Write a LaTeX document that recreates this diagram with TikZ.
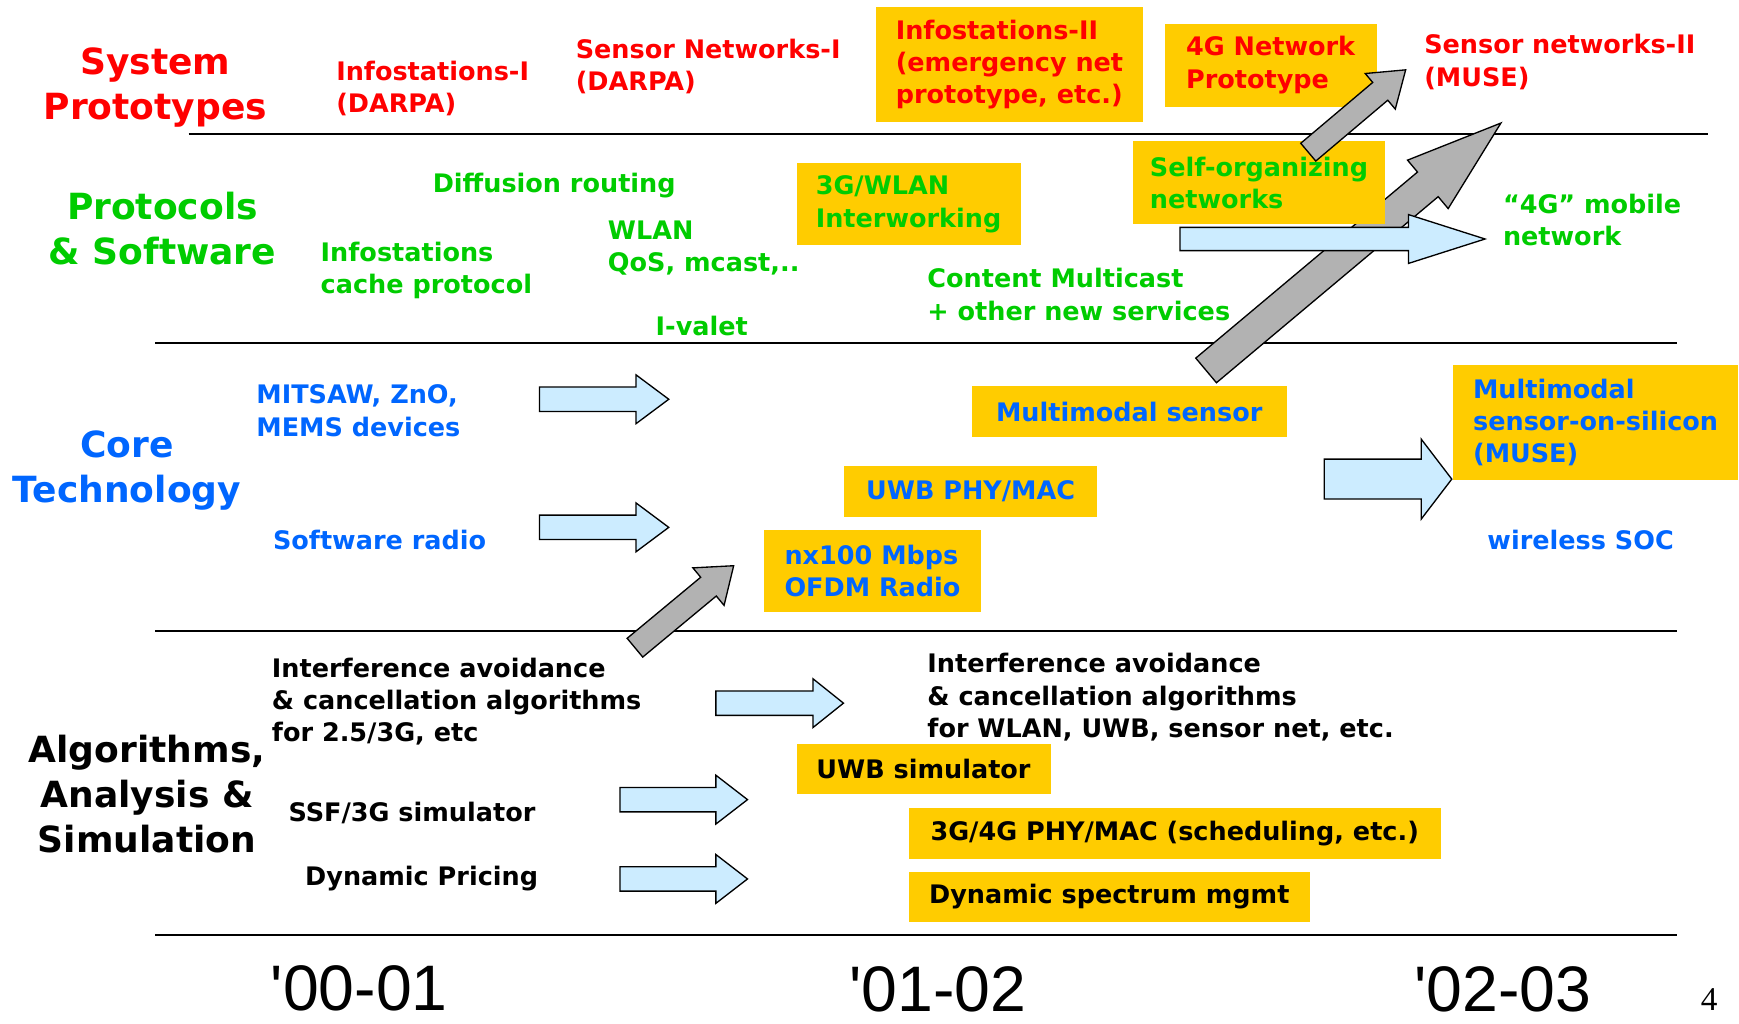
\documentclass[tikz,border=0pt]{standalone}
\usepackage{fontspec}
\setmainfont{DejaVu Sans}
\newfontfamily\yearfont{Liberation Sans}[Ligatures=TeXOff]
\newfontfamily\pagefont{Liberation Serif}
\usepackage{tikz}

\definecolor{protored}{HTML}{FF0000}
\definecolor{protogreen}{HTML}{00CC00}
\definecolor{coreblue}{HTML}{0066FF}
\definecolor{boxyellow}{HTML}{FFCC00}
\definecolor{arrowblue}{HTML}{CCECFF}
\definecolor{arrowgray}{HTML}{B2B2B2}

\newcommand{\itemfont}{\fontsize{23}{29}\selectfont\bfseries}
\newcommand{\headfont}{\fontsize{32.5}{40.5}\selectfont\bfseries}

% estilo, cola, angulo, largo, medio cuerpo, media punta, largo punta
\newcommand{\fatarrow}[7]{%
  \begin{scope}[shift={#2}, rotate=#3]
    \draw[#1] (0,-#5) -- ({#4-#7},-#5) -- ({#4-#7},-#6) -- (#4,0) -- ({#4-#7},#6) -- ({#4-#7},#5) -- (0,#5) -- cycle;
  \end{scope}}

\tikzset{
  lbl/.style={anchor=north west, align=left, inner sep=0pt, font=\itemfont},
  hdg/.style={anchor=north, align=center, inner sep=0pt, font=\headfont},
  hbox/.style 2 args={fill=boxyellow, anchor=north west, align=left, inner sep=0pt, minimum width=#1, minimum height=#2, font=\itemfont},
  year/.style={anchor=base, inner sep=0pt, text depth=0pt, font=\yearfont\fontsize{58}{58}\selectfont},
  sepline/.style={line width=1.6pt},
  bluearrow/.style={draw=black, line width=1.2pt, fill=arrowblue},
  grayarrow/.style={draw=black, line width=1.2pt, fill=arrowgray},
}

\begin{document}
\begin{tikzpicture}[x=1pt, y=-1pt]
\useasboundingbox (0,0) rectangle (1568,923);

\draw[sepline] (170,121) -- (1540,121); % linea 1
\draw[sepline] (140,309) -- (1512,309); % linea 2
\draw[sepline] (140,569) -- (1512,569); % linea 3
\draw[sepline] (140,843) -- (1512,843); % linea 4

% titulos
\node[hdg, text=protored] (sysproto) at (140,43) {System\\Prototypes};
\node[hdg, text=protogreen] (protsw) at (146.5,173) {Protocols\\\& Software};
\node[hdg, text=coreblue] (coretech) at (114.5,388) {Core\\Technology};
\node[hdg, text=black] (algo) at (132.5,663) {Algorithms,\\Analysis \&\\Simulation};

% prototipos
\node[lbl, text=protored] (infoI) at (303,55) {Infostations-I\\(DARPA)};
\node[lbl, text=protored] (sensI) at (519,35) {Sensor Networks-I\\(DARPA)};
\node[lbl, text=protored] (sensII) at (1284,31) {Sensor networks-II\\(MUSE)};

% protocolos
\node[lbl, text=protogreen] (diffusion) at (390,156) {Diffusion routing};
\node[lbl, text=protogreen] (cache) at (289,218) {Infostations\\cache protocol};
\node[lbl, text=protogreen] (wlan) at (548,199) {WLAN\\QoS, mcast,..};
\node[lbl, text=protogreen] (ivalet) at (591,285) {I-valet};
\node[lbl, text=protogreen] (multicast) at (836,242) {Content Multicast\\+ other new services};
\node[lbl, text=protogreen] (mobile) at (1355,175) {“4G” mobile\\network};

% tecnologia
\node[lbl, text=coreblue] (mitsaw) at (231,347) {MITSAW, ZnO,\\MEMS devices};
\node[lbl, text=coreblue] (swradio) at (246,478) {Software radio};
\node[lbl, text=coreblue] (wsoc) at (1341,478) {wireless SOC};

% algoritmos
\node[lbl] (interfA) at (245,593) {Interference avoidance\\\& cancellation algorithms\\for 2.5/3G, etc};
\node[lbl] (ssf) at (260,723) {SSF/3G simulator};
\node[lbl] (pricing) at (275,781) {Dynamic Pricing};
\node[lbl] (interfB) at (836,589) {Interference avoidance\\\& cancellation algorithms\\for WLAN, UWB, sensor net, etc.};

\fatarrow{grayarrow}{(1087.5,334)}{40}{347}{14.5}{28.5}{86} % flecha grande

% cajas
\node[hbox={240pt}{104pt}, text=protored] (infoII) at (790,6) {Infostations-II\\(emergency net\\prototype, etc.)};
\node[hbox={191pt}{75pt}, text=protored] (net4g) at (1050,21) {4G Network\\Prototype};
\node[hbox={202pt}{74pt}, text=protogreen] (wlan3g) at (718,147) {3G/WLAN\\Interworking};
\node[hbox={228pt}{75pt}, text=protogreen] (selforg) at (1021,127) {Self-organizing\\networks};
\node[hbox={284pt}{46pt}, text=coreblue] (mmsensor) at (876,348) {Multimodal sensor};
\node[hbox={228pt}{46pt}, text=coreblue] (uwbphy) at (761,420) {UWB PHY/MAC};
\node[hbox={195pt}{74pt}, text=coreblue] (ofdm) at (689,478) {nx100 Mbps\\OFDM Radio};
\node[hbox={257pt}{104pt}, text=coreblue] (muse) at (1310,329) {Multimodal\\sensor-on-silicon\\(MUSE)};
\node[hbox={229pt}{45pt}] (uwbsim) at (718,671) {UWB simulator};
\node[hbox={480pt}{46pt}] (phymac) at (819,728) {3G/4G PHY/MAC (scheduling, etc.)};
\node[hbox={362pt}{45pt}] (spectrum) at (819,786) {Dynamic spectrum mgmt};

\fatarrow{grayarrow}{(572.5,584)}{39.7}{115.7}{11}{22}{29.5}
\fatarrow{grayarrow}{(1179.6,137.2)}{40.2}{115}{10.5}{21}{30}

% flechas azules
\fatarrow{bluearrow}{(486.5,360)}{0}{116.5}{11}{22}{29.5}
\fatarrow{bluearrow}{(486.5,475.5)}{0}{116.5}{11}{22}{29.5}
\fatarrow{bluearrow}{(1194,432)}{0}{115}{18}{36}{27.5}
\fatarrow{bluearrow}{(645.5,634)}{0}{115}{11}{22}{27.5}
\fatarrow{bluearrow}{(559,721)}{0}{115}{11}{22}{28.5}
\fatarrow{bluearrow}{(559,792.5)}{0}{115}{11}{22}{28.5}
\fatarrow{bluearrow}{(1064,215.5)}{0}{275}{10.5}{22}{69}

% anos
\node[year] (y1) at (324,911) {'00-01};
\node[year] (y2) at (845.5,912) {'01-02};
\node[year] (y3) at (1355,912) {'02-03};
\node[anchor=base, inner sep=0pt, font=\pagefont\fontsize{30}{30}\selectfont] (pagenum) at (1541,911) {4};
\end{tikzpicture}
\end{document}
